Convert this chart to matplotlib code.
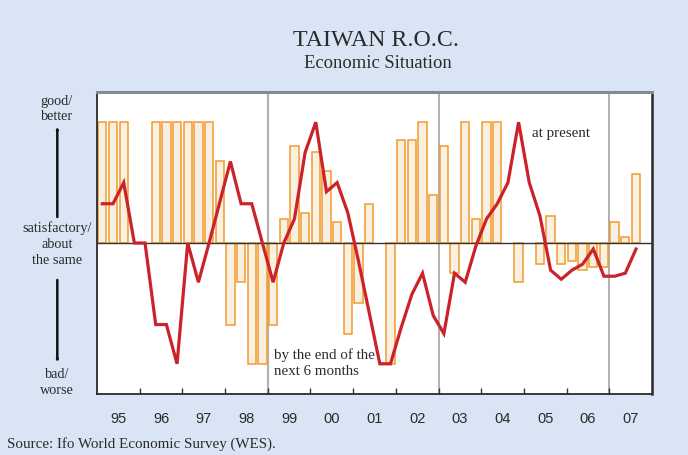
import numpy as np
import matplotlib
matplotlib.use("Agg")
import matplotlib.pyplot as plt

# Ifo World Economic Survey, Taiwan: quarterly grades (1 = bad, 5 = satisfactory, 9 = good)
years = ["95", "96", "97", "98", "99", "00", "01", "02", "03", "04", "05", "06", "07"]
start_year = 1995

# expectations: by the end of the next 6 months (bars)
expectations = [
    9.0, 9.0, 9.0, 5.0, 5.0, 9.0, 9.0, 9.0, 9.0, 9.0, 9.0, 7.7, 2.3, 3.7, 1.0, 1.0,
    2.3, 5.8, 8.2, 6.0, 8.0, 7.4, 5.7, 2.0, 3.0, 6.3, 5.0, 1.0, 8.4, 8.4, 9.0, 6.6,
    8.2, 4.0, 9.0, 5.8, 9.0, 9.0, 5.0, 3.7, 5.0, 4.3, 5.9, 4.3, 4.4, 4.1, 4.2, 4.2,
    5.7, 5.2, 7.3, np.nan,
]

# present situation (line)
present = [
    6.3, 6.3, 7.0, 5.0, 5.0, 2.3, 2.3, 1.0, 5.0, 3.7, 5.0, 6.35, 7.7, 6.3, 6.3, 5.0,
    3.7, 5.0, 5.8, 8.0, 9.0, 6.7, 7.0, 6.0, 4.4, 2.7, 1.0, 1.0, 2.2, 3.3, 4.0, 2.6,
    2.0, 4.0, 3.7, 4.9, 5.8, 6.3, 7.0, 9.0, 7.0, 5.9, 4.1, 3.8, 4.1, 4.3, 4.8, 3.9,
    3.9, 4.0, 4.8, np.nan,
]

neutral = 5.0
bg = "#d9e5f4"
bar_face = "#f8f0e0"
bar_edge = "#f39a2e"
line_col = "#cc2229"
text_col = "#2a2a2a"

serif = ["Liberation Serif", "DejaVu Serif"]
sans = ["Liberation Sans", "DejaVu Sans"]

fig = plt.figure(figsize=(6.88, 4.55), dpi=100, facecolor=bg)
ax = fig.add_axes([97 / 688, 61 / 455, 555 / 688, 302 / 455])
ax.set_facecolor("white")

n = len(expectations)
xq = start_year + (np.arange(n) + 0.5) / 4.0
exp_arr = np.array(expectations, dtype=float)
pres_arr = np.array(present, dtype=float)

mask = ~np.isnan(exp_arr) & (exp_arr != neutral)
ax.bar(xq[mask], exp_arr[mask] - neutral, bottom=neutral, width=0.195,
       color=bar_face, edgecolor=bar_edge, linewidth=1.1, zorder=2)

ax.axhline(neutral, color="#333333", linewidth=1.0, zorder=3)

ok = ~np.isnan(pres_arr)
ax.plot(xq[ok], pres_arr[ok], color=line_col, linewidth=2.3,
        solid_joinstyle="miter", zorder=4)

# separators between survey periods
ax.axvline(1999, color="#b4b4b4", linewidth=1.6, zorder=1)
for xv in (2003, 2007):
    ax.axvline(xv, color="#9a9a9a", linewidth=1.1, zorder=1)

end_year = start_year + len(years)
ax.set_xlim(start_year, end_year)
ax.set_ylim(0, 10)
ax.set_yticks([])
ax.set_xticks(np.arange(start_year + 1, end_year))
ax.set_xticklabels([])
ax.tick_params(axis="x", direction="in", length=4, width=1, color="#333333")
ax.set_xticks(np.arange(start_year, end_year) + 0.5, minor=True)
ax.set_xticklabels(years, minor=True, fontfamily=sans, fontsize=10.5, color=text_col)
ax.tick_params(axis="x", which="minor", length=0, pad=13)

for side in ("left", "bottom", "right"):
    ax.spines[side].set_color("#2a2a2a")
    ax.spines[side].set_linewidth(1.3)
ax.spines["right"].set_linewidth(1.8)
ax.spines["top"].set_color("#858a94")
ax.spines["top"].set_linewidth(2.2)

ax.text(2005.19, 8.63, "at present", fontfamily=serif, fontsize=10.8,
        color=text_col, va="center", ha="left")
ax.text(1999.15, 1.02, "by the end of the\nnext 6 months", fontfamily=serif,
        fontsize=10.8, color=text_col, va="center", ha="left", linespacing=1.25)

def fx(px):
    return px / 688

def fy(py):
    return 1 - py / 455

fig.text(fx(376), fy(40), "TAIWAN R.O.C.", fontfamily=serif, fontsize=17.2,
         ha="center", va="center", color=text_col)
fig.text(fx(378), fy(64), "Economic Situation", fontfamily=serif, fontsize=13.4,
         ha="center", va="center", color=text_col)

for txt, py in (("good/", 101), ("better", 117), ("satisfactory/", 228),
                ("about", 244), ("the same", 260), ("bad/", 374), ("worse", 390)):
    fig.text(fx(57), fy(py), txt, fontfamily=serif, fontsize=10.3,
             ha="center", va="center", color=text_col)

arrow = dict(arrowstyle="-|>,head_length=0.6,head_width=0.22", color="#111111",
             linewidth=1.8, shrinkA=0, shrinkB=0)
fig.add_artist(matplotlib.patches.FancyArrowPatch(
    (fx(57.3), fy(217)), (fx(57.3), fy(126)), transform=fig.transFigure, **arrow))
fig.add_artist(matplotlib.patches.FancyArrowPatch(
    (fx(57.3), fy(280)), (fx(57.3), fy(363)), transform=fig.transFigure, **arrow))

fig.text(fx(7), fy(444), "Source: Ifo World Economic Survey (WES).",
         fontfamily=serif, fontsize=10.8, ha="left", va="center", color=text_col)

fig.savefig("out.png", dpi=100, facecolor=bg)
